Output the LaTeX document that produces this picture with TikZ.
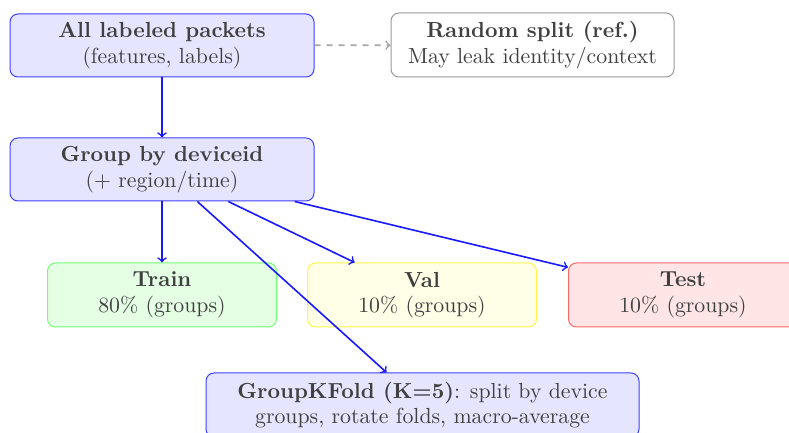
\documentclass[tikz,border=0pt]{standalone}
\begin{document}
\begin{tikzpicture}[x=0.5pt,y=-0.5pt,
  box/.style={draw, rounded corners=4pt, align=center, text=black!75, line width=0.5pt, inner sep=2pt, font=\fontsize{10.9}{12.8}\selectfont},
  bluebox/.style={box, draw=blue!75, fill=blue!10},
  conn/.style={->, draw=blue!90, line width=0.8pt},
]
\useasboundingbox (0,0) rectangle (789,433);
\node[bluebox, minimum width=152pt, minimum height=31.5pt] (all) at (162,45.5)
  {\textbf{All labeled packets}\\(features, labels)};
\node[box, draw=black!40, fill=white, minimum width=141.5pt, minimum height=32pt] (rand) at (532.5,45)
  {\textbf{Random split (ref.)}\\May leak identity/context};
\node[bluebox, minimum width=152pt, minimum height=31.5pt] (grp) at (162,169.5)
  {\textbf{Group by deviceid}\\(+ region/time)};
\node[box, draw=green!55, fill=green!10, minimum width=114.5pt, minimum height=32pt] (train) at (162,295)
  {\textbf{Train}\\80\% (groups)};
\node[box, draw=yellow!70, fill=yellow!10, minimum width=114.5pt, minimum height=32pt] (val) at (422,295)
  {\textbf{Val}\\10\% (groups)};
\node[box, draw=red!60, fill=red!10, minimum width=114.5pt, minimum height=32pt] (test) at (683,295)
  {\textbf{Test}\\10\% (groups)};
\node[bluebox, minimum width=216.5pt, minimum height=32pt] (kfold) at (422.5,405)
  {\textbf{GroupKFold (K=5)}: split by device\\groups, rotate folds, macro-average};
\draw[->, draw=black!35, line width=0.8pt, dashed] (all) -- (rand);
\draw[conn] (all) -- (grp);
\draw[conn] (grp) -- (train);
\draw[conn] (grp) -- (val);
\draw[conn] (grp) -- (test);
\draw[conn] (grp) -- (kfold);
\end{tikzpicture}
\end{document}
